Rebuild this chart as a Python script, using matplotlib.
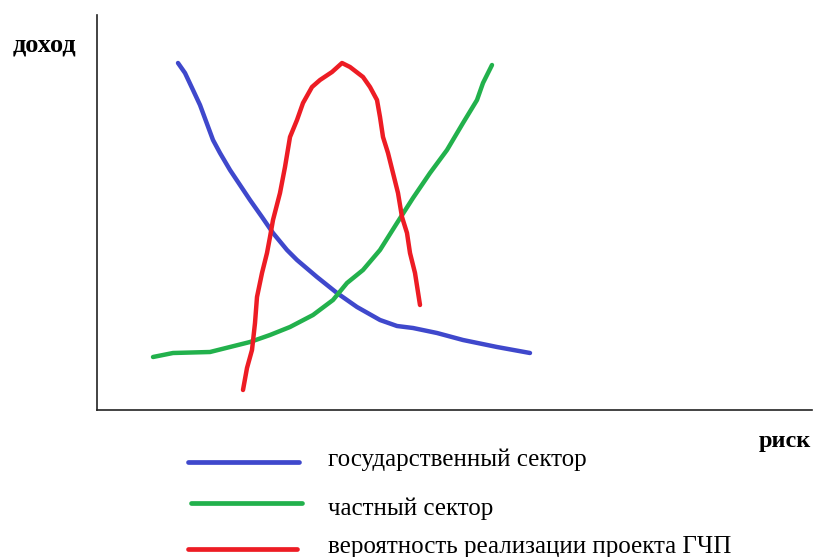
import matplotlib
matplotlib.use('Agg')
import matplotlib.pyplot as plt
from matplotlib.lines import Line2D

# hand-drawn curves (x = risk, y = income)
gov_x = [81, 88, 96, 103, 116, 123, 133, 143, 153, 165, 176, 190, 200, 220, 240, 260, 283, 300, 316, 340, 366, 400, 433]
gov_y = [347, 337, 320, 305, 270, 257, 240, 225, 210, 193, 177, 160, 150, 133, 117, 103, 90, 84, 82, 77, 70, 63, 57]

priv_x = [56, 76, 113, 133, 153, 173, 193, 216, 236, 250, 266, 283, 300, 316, 333, 350, 366, 380, 386, 395]
priv_y = [53, 57, 58, 63, 68, 75, 83, 95, 110, 127, 140, 160, 187, 212, 237, 260, 287, 310, 327, 345]

ppp_x = [146, 150, 155, 158, 160, 165, 170, 173, 176, 183, 188, 193, 200, 206, 215, 223, 235,
         245, 253, 266, 273, 280, 283, 286, 291, 296, 301, 305, 310, 313, 318, 323]
ppp_y = [20, 42, 60, 87, 113, 137, 157, 173, 190, 217, 243, 273, 290, 307, 323, 330, 338,
         347, 343, 333, 323, 310, 293, 273, 257, 237, 217, 193, 177, 157, 137, 105]

labels = ['государственный сектор', 'частный сектор', 'вероятность реализации проекта ГЧП']
colors = ['#3f48cc', '#22b14c', '#ed1c24']

plt.rcParams['font.family'] = ['Liberation Serif', 'DejaVu Serif']

W, H = 813, 557
fig = plt.figure(figsize=(W / 100, H / 100), dpi=100)
ax = fig.add_axes([97 / W, 147 / H, 715 / W, 395 / H])

lw = 3.2
ax.plot(gov_x, gov_y, color=colors[0], lw=lw, solid_capstyle='round', solid_joinstyle='round')
ax.plot(priv_x, priv_y, color=colors[1], lw=lw, solid_capstyle='round', solid_joinstyle='round')
ax.plot(ppp_x, ppp_y, color=colors[2], lw=lw, solid_capstyle='round', solid_joinstyle='round')

ax.set_xlim(0, 715)
ax.set_ylim(0, 395)
ax.set_xticks([])
ax.set_yticks([])
for s in ['top', 'right']:
    ax.spines[s].set_visible(False)
for s in ['left', 'bottom']:
    ax.spines[s].set_color('#222222')
    ax.spines[s].set_linewidth(1.2)

fig.text(13 / W, 1 - 51 / H, 'доход', fontsize=19, fontweight='bold', va='baseline', ha='left')
fig.text(811 / W, 1 - 447 / H, 'риск', fontsize=17.5, fontweight='bold', va='baseline', ha='right')

# hand-placed legend under the chart (rows are not evenly spaced in the original)
key_x = [(188, 299), (191, 302), (188, 297)]
key_y = [462, 503, 549]
text_y = [466, 515, 553]
for i in range(3):
    fig.add_artist(Line2D([key_x[i][0] / W, key_x[i][1] / W], [1 - key_y[i] / H, 1 - key_y[i] / H],
                          transform=fig.transFigure, color=colors[i], lw=3.4, solid_capstyle='round'))
    fig.text(328 / W, 1 - text_y[i] / H, labels[i], fontsize=18, va='baseline', ha='left')

fig.savefig('out.png', dpi=100)
